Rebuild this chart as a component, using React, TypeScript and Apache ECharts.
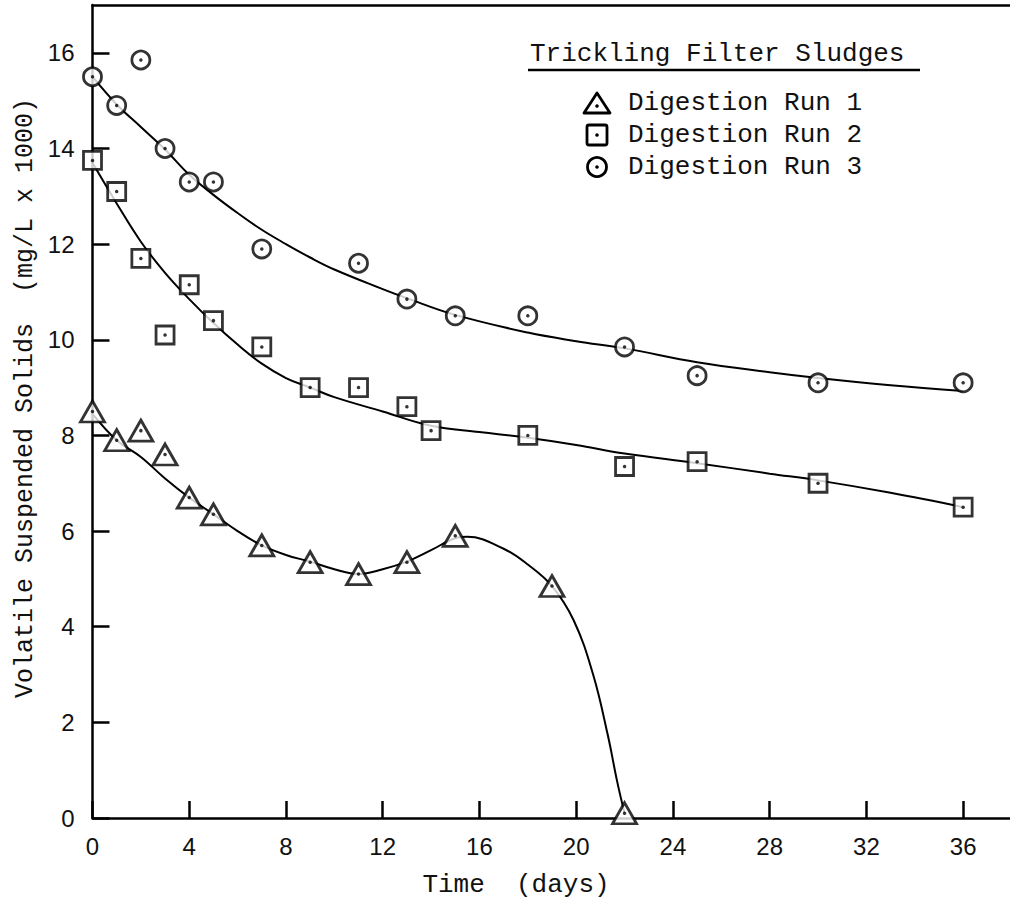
import React, { useEffect, useRef } from "react";
import * as echarts from "echarts";

// Measured points (Time in days, VSS in mg/L x 1000)
const run1X = [0, 1, 2, 3, 4, 5, 7, 9, 11, 13, 15, 19, 22];
const run1Y = [8.5, 7.9, 8.1, 7.6, 6.7, 6.35, 5.7, 5.35, 5.1, 5.35, 5.9, 4.85, 0.1];

const run2X = [0, 1, 2, 3, 4, 5, 7, 9, 11, 13, 14, 18, 22, 25, 30, 36];
const run2Y = [13.75, 13.1, 11.7, 10.1, 11.15, 10.4, 9.85, 9.0, 9.0, 8.6, 8.1, 8.0, 7.35, 7.45, 7.0, 6.5];

const run3X = [0, 1, 2, 3, 4, 5, 7, 11, 13, 15, 18, 22, 25, 30, 36];
const run3Y = [15.5, 14.9, 15.85, 14.0, 13.3, 13.3, 11.9, 11.6, 10.85, 10.5, 10.5, 9.85, 9.25, 9.1, 9.1];

// Hand-drawn fitted curves
const fit1X = [0, 1, 2, 3, 4, 5, 6, 7, 8, 9, 10, 11, 12, 13, 14, 15, 15.5, 17, 18, 19, 19.9, 20.7, 21.3, 21.7, 22];
const fit1Y = [8.45, 7.9, 7.55, 7.1, 6.7, 6.35, 6.0, 5.7, 5.5, 5.36, 5.2, 5.1, 5.2, 5.36, 5.6, 5.85, 5.88, 5.63, 5.3, 4.85, 4.13, 3.0, 1.75, 0.75, 0.1];

const fit2X = [0, 1, 2, 3, 4, 5, 6, 7, 8, 9, 10, 12, 14, 16, 18, 20, 22, 25, 28, 30, 33, 36];
const fit2Y = [13.7, 12.85, 12.05, 11.4, 10.85, 10.35, 9.9, 9.5, 9.2, 9.0, 8.8, 8.5, 8.2, 8.07, 7.95, 7.8, 7.62, 7.42, 7.2, 7.06, 6.8, 6.5];

const fit3X = [0, 1, 2, 3, 4, 5, 6, 7, 8, 9, 10, 12, 13, 15, 18, 20, 22, 25, 28, 30, 33, 36];
const fit3Y = [15.5, 14.92, 14.45, 13.98, 13.45, 13.03, 12.65, 12.3, 12.0, 11.72, 11.47, 11.06, 10.87, 10.52, 10.15, 9.97, 9.82, 9.53, 9.32, 9.2, 9.05, 8.93];

const legendTitle = "Trickling Filter Sludges";
const seriesNames = ["Digestion Run 1", "Digestion Run 2", "Digestion Run 3"];
const xTitle = "Time  (days)";
const yTitle = "Volatile Suspended Solids  (mg/L x 1000)";

const pairs = (xs: number[], ys: number[]) => xs.map((x, i) => [x, ys[i]]);

const MONO = "'Liberation Mono', 'DejaVu Sans Mono', monospace";
const SANS = "'Liberation Sans', Arial, sans-serif";

export default function App() {
  const ref = useRef<HTMLDivElement>(null);
  useEffect(() => {
    const chart = echarts.init(ref.current!, null, { renderer: "svg" });
    const markerStyle = { color: "#fff", borderColor: "#000", borderWidth: 2.8 };
    const lineSeries = (xs: number[], ys: number[]) => ({
      type: "line",
      data: pairs(xs, ys),
      smooth: 0.4,
      symbol: "none",
      lineStyle: { color: "#000", width: 2 },
      z: 2,
      silent: true,
    });
    const markerSeries = (name: string, xs: number[], ys: number[], symbol: string, size: any) => ({
      name,
      type: "scatter",
      data: pairs(xs, ys),
      symbol,
      symbolSize: size,
      itemStyle: markerStyle,
      clip: false,
      z: 3,
    });
    const dotSeries = (xs: number[], ys: number[]) => ({
      type: "scatter",
      data: pairs(xs, ys),
      symbol: "circle",
      symbolSize: 3.5,
      itemStyle: { color: "#000" },
      clip: false,
      silent: true,
      z: 4,
    });
    const tickLabel = (v: number) => (v % 2 === 0 ? String(v) : "");
    const option: any = {
      animation: false,
      backgroundColor: "#fff",
      grid: { left: 92.5, top: 5, width: 919, height: 813, containLabel: false, outerBoundsMode: "none" },
      xAxis: [
        {
          type: "value",
          min: 0,
          max: 38,
          interval: 4,
          axisLine: { show: true, onZero: false, lineStyle: { color: "#000", width: 2.5 } },
          axisTick: { show: true, inside: true, length: 17, lineStyle: { color: "#000", width: 2.5 } },
          axisLabel: { color: "#111", fontFamily: SANS, fontSize: 24, margin: 16, showMaxLabel: false, formatter: (v: number) => (v % 4 === 0 ? String(v) : "") },
          splitLine: { show: false },
        },
        {
          type: "value",
          position: "top",
          min: 0,
          max: 38,
          axisLine: { show: true, onZero: false, lineStyle: { color: "#000", width: 2.5 } },
          axisTick: { show: false },
          axisLabel: { show: false },
          splitLine: { show: false },
        },
      ],
      yAxis: {
        type: "value",
        min: 0,
        max: 17,
        interval: 2,
        axisLine: { show: true, onZero: false, lineStyle: { color: "#000", width: 2.5 } },
        axisTick: { show: true, inside: true, length: 17, lineStyle: { color: "#000", width: 2.5 } },
        axisLabel: { color: "#111", fontFamily: SANS, fontSize: 24, margin: 18, showMaxLabel: false, formatter: tickLabel },
        splitLine: { show: false },
      },
      series: [
        lineSeries(fit1X, fit1Y),
        lineSeries(fit2X, fit2Y),
        lineSeries(fit3X, fit3Y),
        markerSeries(seriesNames[0], run1X, run1Y, "triangle", [24, 21]),
        markerSeries(seriesNames[1], run2X, run2Y, "rect", 18),
        markerSeries(seriesNames[2], run3X, run3Y, "circle", 18),
        dotSeries(run1X, run1Y),
        dotSeries(run2X, run2Y),
        dotSeries(run3X, run3Y),
      ],
      graphic: [
        {
          type: "text",
          x: 25,
          y: 398,
          rotation: Math.PI / 2,
          style: { text: yTitle, fontFamily: MONO, fontSize: 25, fill: "#111", align: "center", verticalAlign: "middle" },
        },
        {
          type: "text",
          x: 530,
          y: 54,
          style: { text: legendTitle, fontFamily: MONO, fontSize: 26, fill: "#111", align: "left", verticalAlign: "middle" },
        },
        {
          type: "line",
          shape: { x1: 528, y1: 70, x2: 920, y2: 70 },
          style: { stroke: "#000", lineWidth: 2.5 },
        },
        {
          type: "polygon",
          shape: { points: [[584, 113], [610, 113], [597, 93]] },
          style: { fill: "#fff", stroke: "#000", lineWidth: 2.8, lineJoin: "round" },
        },
        { type: "circle", shape: { cx: 597, cy: 106, r: 1.8 }, style: { fill: "#000" } },
        {
          type: "rect",
          shape: { x: 587, y: 125, width: 20, height: 20, r: 2 },
          style: { fill: "#fff", stroke: "#000", lineWidth: 2.8 },
        },
        { type: "circle", shape: { cx: 597, cy: 135, r: 1.8 }, style: { fill: "#000" } },
        {
          type: "circle",
          shape: { cx: 597, cy: 167, r: 9.5 },
          style: { fill: "#fff", stroke: "#000", lineWidth: 2.8 },
        },
        { type: "circle", shape: { cx: 597, cy: 167, r: 1.8 }, style: { fill: "#000" } },
        {
          type: "text",
          x: 628,
          y: 103,
          style: { text: seriesNames[0], fontFamily: MONO, fontSize: 26, fill: "#111", align: "left", verticalAlign: "middle" },
        },
        {
          type: "text",
          x: 628,
          y: 135,
          style: { text: seriesNames[1], fontFamily: MONO, fontSize: 26, fill: "#111", align: "left", verticalAlign: "middle" },
        },
        {
          type: "text",
          x: 628,
          y: 167,
          style: { text: seriesNames[2], fontFamily: MONO, fontSize: 26, fill: "#111", align: "left", verticalAlign: "middle" },
        },
        {
          type: "text",
          x: 516,
          y: 885,
          style: { text: xTitle, fontFamily: MONO, fontSize: 26, fill: "#111", align: "center", verticalAlign: "middle" },
        },
      ],
    };
    chart.setOption(option);
    return () => chart.dispose();
  }, []);
  return (
    <div
      ref={ref}
      style={{ position: "absolute", left: 0, top: 0, width: 1010, height: 918, background: "#fff" }}
    />
  );
}
